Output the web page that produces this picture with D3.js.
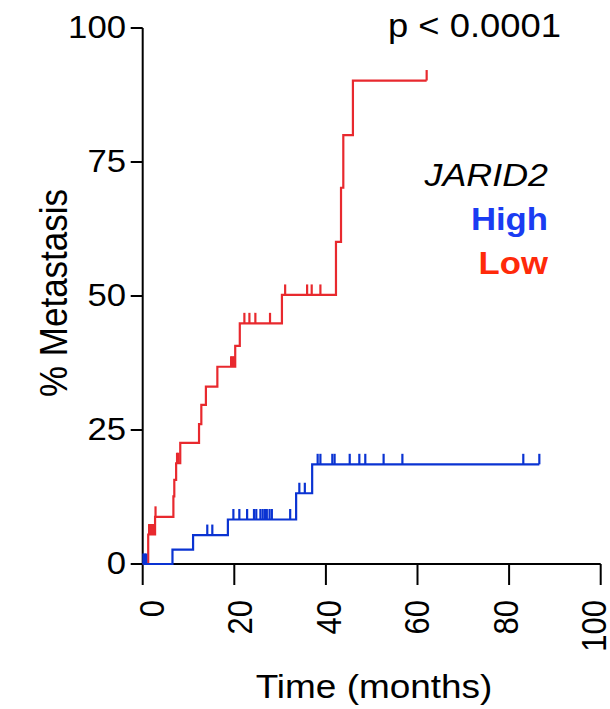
<!DOCTYPE html>
<html>
<head>
<meta charset="utf-8">
<script src="https://cdn.jsdelivr.net/npm/d3@7"></script>
<style>
  html, body { margin: 0; padding: 0; background: #fff; }
  svg { display: block; }
  text { font-family: "Liberation Sans", Arial, Helvetica, sans-serif; fill: #000; }
</style>
</head>
<body>
<svg id="chart" width="610" height="709"></svg>
<script>
// ---- Data ----
const xTicks = [0, 20, 40, 60, 80, 100];
const yTicks = [0, 25, 50, 75, 100];

// Kaplan–Meier steps: [time (months), % metastasis after the step]
const lowSteps = [[0,0],[1.2,5.5],[2.7,8.8],[6.7,12.6],[6.9,15.7],[7.3,18.8],[8.2,22.6],
  [12.3,26.1],[12.8,29.7],[13.8,33.1],[16.3,36.8],[20.2,40.7],[21.2,44.9],[30.4,50.2],
  [42.2,60.1],[43.3,70.2],[43.8,80.0],[45.9,90.2]];
const lowEnd = 62.0;
const lowCensor = [1.4,1.7,2.0,2.3,2.8,7.5,7.8,19.3,19.6,19.9,22.2,23.3,24.6,27.8,
  31.1,35.9,36.9,38.8,62.0];

const highSteps = [[0,0],[6.5,2.7],[11.0,5.4],[18.6,8.3],[33.5,13.2],[37.0,18.6]];
const highEnd = 86.6;
const highCensor = [0.15,0.45,0.75,14.1,15.2,19.8,21.1,22.8,24.3,24.8,25.7,26.2,26.7,27.1,
  27.7,28.2,32.2,34.2,35.4,38.2,38.8,41.4,41.9,45.2,47.3,48.6,52.6,56.7,83.1,86.6];

const pText = "p < 0.0001";
const legendTitle = "JARID2";
const groupNames = ["High", "Low"];

// ---- Layout ----
const svg = d3.select("#chart");
const SX = 1.12; // horizontal text stretch seen in the reference
const x = d3.scaleLinear().domain([0, 100]).range([142.7, 600.7]);
const y = d3.scaleLinear().domain([0, 100]).range([564, 28]);
// tick labels in the reference sit on a slightly narrower span than the ticks
const xLab = d3.scaleLinear().domain([0, 100]).range([152, 594]);

const redLine = "#e8292e", blueLine = "#0a33d2";
const redText = "#ff2a0a", blueText = "#1a3cf2";

// axes
const axisG = svg.append("g");
axisG.append("line").attr("x1", x(0)).attr("x2", x(100)).attr("y1", y(0)).attr("y2", y(0))
  .attr("stroke", "#000").attr("stroke-width", 2);
axisG.append("line").attr("x1", x(0)).attr("x2", x(0)).attr("y1", y(0)).attr("y2", y(100))
  .attr("stroke", "#000").attr("stroke-width", 2);

xTicks.forEach(t => {
  axisG.append("line").attr("x1", x(t)).attr("x2", x(t)).attr("y1", y(0)).attr("y2", y(0) + 21)
    .attr("stroke", "#000").attr("stroke-width", 2);
  axisG.append("text")
    .attr("transform", `translate(${xLab(t) + 12},600) scale(${SX},1) rotate(-90)`)
    .attr("text-anchor", "end").attr("font-size", 31).text(t);
});
yTicks.forEach(v => {
  axisG.append("line").attr("x1", x(0) - 12).attr("x2", x(0)).attr("y1", y(v)).attr("y2", y(v))
    .attr("stroke", "#000").attr("stroke-width", 2);
  axisG.append("text")
    .attr("transform", `translate(126,${y(v) + 10}) scale(${SX},1)`)
    .attr("text-anchor", "end").attr("font-size", 31).text(v);
});

// axis titles
svg.append("text")
  .attr("transform", `translate(374,698) scale(${SX},1)`)
  .attr("text-anchor", "middle").attr("font-size", 33).text("Time (months)");
svg.append("text")
  .attr("transform", `translate(67,293) scale(${SX},1) rotate(-90)`)
  .attr("text-anchor", "middle").attr("font-size", 35).text("% Metastasis");

// curves
const line = d3.line().x(d => x(d[0])).y(d => y(d[1])).curve(d3.curveStepAfter);
function valueAt(steps, t) {
  let v = 0;
  steps.forEach(s => { if (s[0] <= t) v = s[1]; });
  return v;
}
function drawCurve(steps, end, censor, color) {
  const g = svg.append("g");
  const pts = steps.concat([[end, steps[steps.length - 1][1]]]);
  g.append("path").attr("d", line(pts)).attr("fill", "none")
    .attr("stroke", color).attr("stroke-width", 2.2);
  g.selectAll("line.c").data(censor).enter().append("line")
    .attr("x1", d => x(d)).attr("x2", d => x(d))
    .attr("y1", d => y(valueAt(steps, d))).attr("y2", d => y(valueAt(steps, d)) - 10.5)
    .attr("stroke", color).attr("stroke-width", 2.2);
}
drawCurve(lowSteps, lowEnd, lowCensor, redLine);
drawCurve(highSteps, highEnd, highCensor, blueLine);

// annotations
svg.append("text")
  .attr("transform", `translate(388,37) scale(${SX},1)`)
  .attr("text-anchor", "start").attr("font-size", 32.5).text(pText);
svg.append("text")
  .attr("transform", `translate(548,186) scale(${SX},1)`)
  .attr("text-anchor", "end").attr("font-size", 32).attr("font-style", "italic").text(legendTitle);
svg.append("text")
  .attr("transform", `translate(548,230) scale(${SX},1)`)
  .attr("text-anchor", "end").attr("font-size", 31).attr("font-weight", "bold")
  .style("fill", blueText).text(groupNames[0]);
svg.append("text")
  .attr("transform", `translate(548,274) scale(${SX},1)`)
  .attr("text-anchor", "end").attr("font-size", 31).attr("font-weight", "bold")
  .style("fill", redText).text(groupNames[1]);
</script>
</body>
</html>
